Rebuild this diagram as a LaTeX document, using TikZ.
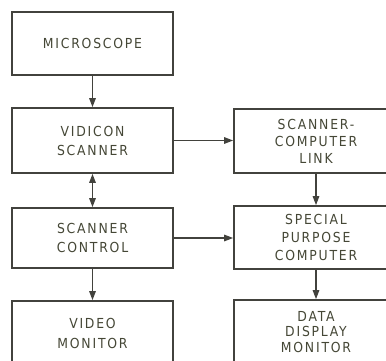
\documentclass[tikz,border=0pt]{standalone}
\usepackage{fontspec}
\setmainfont{DejaVu Sans Condensed}[LetterSpace=13]
\usetikzlibrary{arrows.meta}
\definecolor{ink}{rgb}{0.26,0.26,0.24}
\definecolor{txt}{rgb}{0.27,0.28,0.21}
\begin{document}
\begin{tikzpicture}[x=1pt,y=-1pt,
  blk/.style={draw=ink, line width=1.7pt, rectangle, inner sep=0pt,
    text=txt, align=center, font=\fontsize{13.8}{19}\selectfont},
  lcol/.style={blk, minimum width=161pt},
  rcol/.style={blk, minimum width=164pt},
  tip/.tip={Triangle[length=9pt,width=6.5pt]},
  arr/.style={draw=ink, line width=1.3pt, -tip},
  darr/.style={draw=ink, line width=1.3pt, tip-tip}]
\useasboundingbox (0,0) rectangle (386,361);
\clip (0,0) rectangle (386,361);
\fill[white] (0,0) rectangle (386,361);
% left column
\node[lcol, minimum height=63pt] (micro) at (92.5,43.5) {MICROSCOPE};
\node[lcol, minimum height=65pt] (vid) at (92.5,140.5) {VIDICON\\SCANNER};
\node[lcol, minimum height=60pt] (ctrl) at (92.5,238) {SCANNER\\CONTROL};
\node[lcol, minimum height=64pt, font=\fontsize{13.8}{20}\selectfont] (video) at (92.5,333) {VIDEO\\MONITOR};
% right column
\node[rcol, minimum height=64pt, font=\fontsize{13.8}{17}\selectfont] (scl) at (316,141) {SCANNER-\\COMPUTER\\LINK};
\node[rcol, minimum height=63pt, font=\fontsize{13.8}{18}\selectfont] (sp) at (316,237.5) {SPECIAL\\PURPOSE\\COMPUTER};
\node[rcol, minimum height=64pt, font=\fontsize{13.8}{15.5}\selectfont] (ddm) at (316,332) {DATA\\DISPLAY\\MONITOR};
% connectors
\draw[arr] (micro) -- (vid);
\draw[darr] (vid) -- (ctrl);
\draw[arr] (ctrl) -- (video);
\draw[arr] (vid.east) -- (vid.east -| scl.west);
\draw[arr] (ctrl.east) -- (ctrl.east -| sp.west);
\draw[arr] (scl) -- (sp);
\draw[arr] (sp) -- (ddm);
\end{tikzpicture}
\end{document}
